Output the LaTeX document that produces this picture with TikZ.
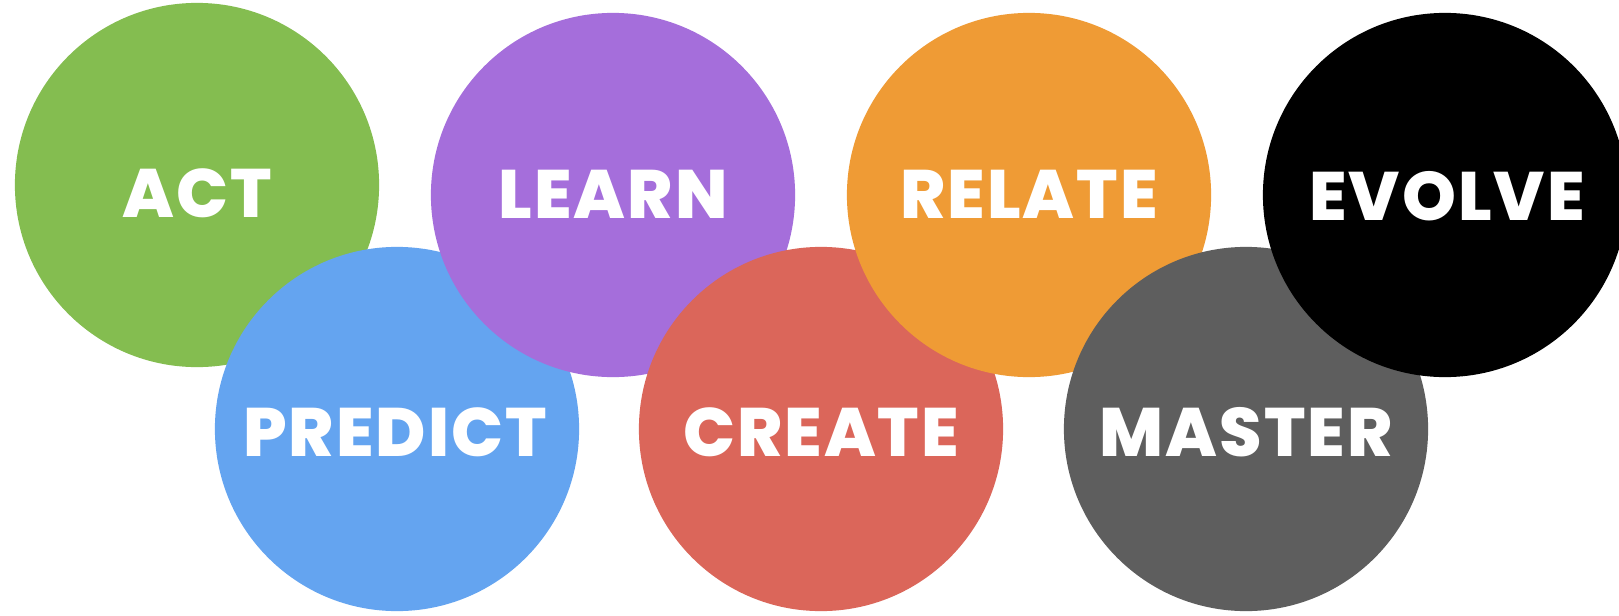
\documentclass[tikz,border=0pt]{standalone}
\usepackage{fontspec}
\setmainfont{Poppins}[BoldFont={Poppins ExtraBold}, LetterSpace=3]
\definecolor{cgreen}{HTML}{84BD50}
\definecolor{cpurple}{HTML}{A56EDB}
\definecolor{cblue}{HTML}{64A4F0}
\definecolor{cred}{HTML}{DB665A}
\definecolor{corange}{HTML}{EF9B35}
\definecolor{cgray}{HTML}{5E5E5E}
\definecolor{cblack}{HTML}{000000}
\begin{document}
\begin{tikzpicture}[x=0.01cm,y=-0.01cm,
  bubble/.style={circle, minimum size=3.64cm, inner sep=0pt},
  word/.style={inner sep=0pt, text=white, text height=0.48cm, text depth=0pt,
    font=\fontsize{19.5}{20}\selectfont\bfseries}]
\useasboundingbox (0,0) rectangle (1619,615);
\fill[white] (0,0) rectangle (1619,615);
\node[bubble, fill=cgreen]  (act)     at (197,185)  {};
\node[word] (actw) at (197,193) {ACT};
\node[bubble, fill=cblue]   (predict) at (397,429)  {};
\node[word] (predictw) at (395,432) {PREDICT};
\node[bubble, fill=cpurple] (learn)   at (613,195)  {};
\node[word] (learnw) at (613,194) {LEARN};
\node[bubble, fill=cred]    (create)  at (821,429)  {};
\node[word] (createw) at (821,432) {CREATE};
\node[bubble, fill=corange] (relate)  at (1029,195) {};
\node[word] (relatew) at (1029,194) {RELATE};
\node[bubble, fill=cgray]   (master)  at (1246,429) {};
\node[word] (masterw) at (1246,432) {MASTER};
\node[bubble, fill=cblack]  (evolve)  at (1445,195) {};
\node[word] (evolvew) at (1447,196) {EVOLVE};
\end{tikzpicture}
\end{document}
